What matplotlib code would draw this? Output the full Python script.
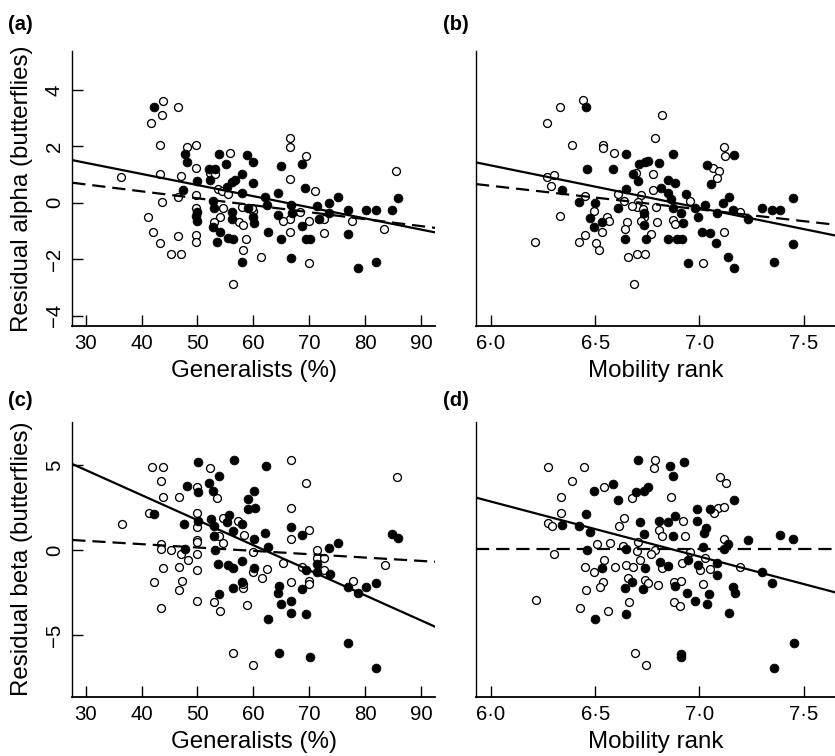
import matplotlib
matplotlib.use("Agg")
import matplotlib.pyplot as plt

plt.rcParams['font.family'] = ['Liberation Sans', 'DejaVu Sans']
plt.rcParams['lines.scale_dashes'] = False

# ---------------- data ----------------
# Panel (a): Residual alpha vs Generalists (%)
a_open_x = [36.3, 41.7, 43.8, 43.7, 46.6, 43.3, 43.3, 47.0, 48.2, 49.8, 49.8, 49.8, 46.6, 43.7,
            41.2, 42.1, 43.3, 45.2, 47.0, 46.6, 49.8, 49.8, 49.8, 55.8, 53.7, 54.3, 54.5, 54.0,
            52.9, 55.4, 56.3, 57.4, 58.2, 58.2, 58.6, 57.9, 60.0, 61.4, 66.6, 66.6, 66.6, 66.6,
            66.6, 65.3, 68.4, 69.4, 71.1, 69.9, 69.9, 72.6, 72.6, 77.7, 83.3, 85.5, 52.3, 53.2, 59.7]
a_open_y = [0.90, 2.84, 3.62, 3.11, 3.40, 2.06, 1.03, 0.96, 1.98, 2.06, 1.22, 0.27, 0.21, 0.02,
            -0.49, -1.02, -1.42, -1.82, -1.82, -1.17, -0.20, -1.14, -1.38, 1.78, 0.49, 0.41, -0.17, -0.52,
            -0.70, 0.30, -2.88, -0.70, -0.80, -1.68, -1.30, -0.14, -0.31, -1.91, 2.28, 1.98, 0.85, -0.56,
            -1.02, -0.66, -0.34, 1.64, 0.43, -0.66, -2.13, -0.58, -1.08, -0.64, -0.93, 1.14, 1.04, 1.02, -0.20]
a_fill_x = [42.2, 47.7, 48.2, 47.4, 50.0, 50.0, 50.0, 49.8, 52.0, 53.1, 52.3, 52.7, 52.9, 52.7,
            54.0, 53.5, 53.9, 55.1, 55.3, 56.1, 56.7, 58.0, 56.2, 56.2, 55.4, 56.3, 57.9, 57.9,
            58.8, 60.0, 60.0, 59.1, 60.0, 60.1, 62.1, 62.4, 62.6, 64.4, 64.9, 64.4, 65.0, 66.8,
            66.9, 66.8, 68.7, 69.3, 68.7, 69.5, 70.2, 71.4, 71.7, 73.6, 73.6, 75.2, 77.0, 77.0,
            78.7, 80.1, 82.0, 82.0, 84.8, 85.8]
a_fill_y = [3.40, 1.73, 1.46, 0.46, 0.77, -0.33, -0.65, -0.47, 1.20, 1.20, 0.80, 0.07, -0.18, -0.85,
            -1.04, -1.38, 1.73, 1.37, 0.57, 0.75, 0.80, 1.01, -0.32, -0.56, -1.24, -1.30, 0.33, -2.09,
            1.69, 1.46, 0.69, -0.20, -0.50, -0.71, 0.21, -0.08, -1.03, 0.33, 1.31, -0.44, -1.29, -0.09,
            -0.36, -1.95, 1.36, 0.51, -0.82, -1.30, -1.27, -0.12, -0.59, 0.00, -0.38, 0.20, -0.24, -1.12,
            -2.32, -0.26, -0.26, -2.09, -0.26, 0.18]

# Panel (b): Residual alpha vs Mobility rank
b_open_x = [6.443, 6.331, 6.270, 6.387, 6.535, 6.539, 6.591, 6.822, 6.785, 6.779, 6.777, 6.270,
            6.301, 6.288, 6.451, 6.611, 6.638, 6.695, 6.718, 6.707, 6.699, 6.678, 6.729, 6.789,
            6.736, 6.720, 6.797, 6.874, 6.882, 6.954, 7.066, 7.095, 7.084, 7.116, 7.122, 7.116,
            7.018, 7.194, 6.331, 6.494, 6.555, 6.568, 6.531, 6.451, 6.424, 6.505, 6.516, 6.213,
            6.654, 6.641, 6.767, 6.655, 6.699, 6.737, 6.686]
b_open_y = [3.64, 3.40, 2.84, 2.06, 2.06, 1.95, 1.78, 3.11, 2.30, 1.01, 0.45, 0.92,
            0.97, 0.59, 0.24, 0.31, 0.05, 1.04, 0.27, 0.01, -0.14, -0.12, -0.22, -0.14,
            -0.52, -0.64, -0.70, -0.62, -0.76, 0.07, 1.22, 1.14, 0.88, 1.96, 1.66, -1.02,
            -2.13, -0.33, -0.47, -0.30, -0.52, -0.64, -1.02, -1.16, -1.38, -1.44, -1.67, -1.38,
            -0.70, -0.93, -1.12, -1.91, -1.82, -1.82, -2.88]
b_fill_x = [6.456, 6.649, 6.871, 6.462, 6.587, 6.710, 6.738, 6.754, 6.807, 6.680, 6.704, 7.034,
            7.165, 7.055, 6.339, 6.424, 6.500, 6.611, 6.648, 6.814, 6.851, 6.882, 6.851, 6.864,
            6.874, 6.935, 6.911, 6.922, 6.978, 6.994, 7.026, 7.082, 7.114, 7.141, 7.161, 7.234,
            7.298, 7.346, 7.386, 7.450, 6.475, 6.496, 6.531, 6.733, 6.733, 6.641, 6.742, 6.851,
            6.890, 6.914, 7.014, 7.050, 7.079, 6.943, 7.138, 7.167, 7.357, 7.450]
b_fill_y = [3.40, 1.73, 1.73, 1.18, 1.18, 1.36, 1.46, 1.49, 1.41, 1.01, 0.78, 1.33,
            1.68, 0.67, 0.45, 0.04, -0.02, -0.17, 0.49, 0.53, 0.79, 0.70, 0.33, 0.14,
            -0.17, 0.31, -0.38, -0.73, -0.20, -0.50, -0.08, -0.38, -0.02, 0.21, -0.24, -0.57,
            -0.17, -0.26, -0.26, 0.17, -0.54, -0.85, -0.67, -0.38, -0.80, -1.30, -1.30, -1.27,
            -1.27, -1.27, -1.05, -1.09, -1.41, -2.13, -1.94, -2.32, -2.11, -1.47]

# Panel (c): Residual beta vs Generalists (%)
c_open_x = [36.5, 41.8, 43.8, 43.4, 43.8, 41.3, 46.7, 50.0, 50.0, 50.0, 50.0, 50.0, 50.0, 50.0,
            50.0, 52.3, 53.5, 54.5, 57.2, 58.3, 54.6, 53.9, 43.4, 43.4, 45.3, 47.0, 48.3, 43.8,
            46.7, 47.2, 46.7, 42.2, 43.4, 52.9, 54.1, 58.8, 58.2, 58.2, 56.4, 60.0, 60.0, 60.0,
            61.6, 62.5, 65.3, 66.7, 66.7, 66.7, 66.7, 69.4, 70.0, 68.7, 70.0, 70.0, 71.4, 71.4,
            72.7, 72.7, 77.8, 83.5, 85.7]
c_open_y = [1.55, 4.90, 4.90, 4.06, 3.14, 2.20, 3.14, 3.69, 2.20, 1.37, 0.59, 0.45, -0.24, -1.18,
            -3.00, 4.84, 3.08, 1.86, 1.71, 0.88, 0.43, 0.82, 0.33, 0.06, 0.00, -0.25, -0.59, -1.04,
            -0.98, -1.82, -2.35, -1.90, -3.39, -3.04, -3.57, -3.25, -2.22, -2.02, -6.08, -6.76, -0.10, -1.27,
            -1.63, -1.12, -0.75, 5.29, 2.49, 0.65, -1.88, 3.92, 1.18, -0.98, -1.82, -2.00, -0.02, -0.49,
            -0.45, -1.18, -1.82, -0.88, 4.29]
c_fill_x = [42.3, 47.5, 48.2, 50.1, 50.1, 50.1, 47.8, 52.1, 52.7, 53.9, 52.4, 52.9, 53.0, 53.2,
            53.6, 55.7, 55.2, 56.3, 58.0, 55.4, 56.3, 58.0, 56.6, 59.0, 59.0, 60.1, 60.3, 60.1,
            60.1, 62.2, 62.1, 62.6, 53.9, 56.3, 58.0, 62.6, 64.5, 64.4, 65.0, 64.5, 66.8, 66.8,
            66.8, 68.7, 68.7, 69.4, 69.4, 70.1, 71.4, 71.4, 73.6, 73.7, 75.2, 77.0, 77.0, 78.7,
            80.1, 82.0, 82.0, 84.8, 85.8]
c_fill_y = [2.12, 1.51, 3.76, 5.20, 3.43, 1.73, 0.06, 3.92, 3.49, 4.35, 1.82, 1.41, 0.82, 0.00,
            -0.80, 2.06, 1.67, 1.12, 1.53, -0.88, -1.04, -0.65, 5.29, 2.98, 2.39, 3.49, 2.45, 0.63,
            -1.08, 4.96, 0.98, 0.20, -2.61, -2.22, -1.86, -4.08, -2.12, -2.55, -3.18, -6.04, 1.37, -3.00,
            -3.69, 0.88, -2.31, -1.18, -3.76, -6.27, -0.82, -1.31, 0.10, -1.43, 0.39, -2.16, -5.45, -2.55,
            -2.16, -1.96, -6.96, 0.92, 0.69]

# Panel (d): Residual beta vs Mobility rank
d_open_x = [6.272, 6.448, 6.390, 6.334, 6.334, 6.272, 6.291, 6.304, 6.540, 6.676, 6.786, 6.782,
            6.863, 7.100, 7.125, 7.090, 7.119, 7.072, 6.639, 6.614, 6.571, 6.508, 6.633, 6.707,
            6.701, 6.715, 6.786, 6.769, 6.806, 6.818, 6.923, 6.931, 7.119, 6.954, 6.918, 7.026,
            7.002, 7.052, 7.194, 6.540, 6.451, 6.496, 6.594, 6.646, 6.683, 6.655, 6.535, 6.521,
            6.455, 6.217, 6.428, 6.559, 6.660, 6.738, 6.754, 6.802, 6.821, 6.879, 6.910, 7.018,
            6.876, 6.908, 6.689, 6.745]
d_open_y = [4.90, 4.90, 4.06, 3.14, 2.16, 1.57, 1.41, -0.22, 3.69, 3.08, 5.29, 4.84,
            3.14, 4.31, 3.92, 2.49, 2.53, 2.16, 1.86, 1.39, 0.43, 0.33, 0.25, 0.45,
            -0.04, -0.59, -0.02, -0.24, 1.18, 0.84, 1.71, 0.84, 0.65, -0.10, -0.75, -0.49,
            -1.18, -1.12, -0.98, -0.59, -0.98, -1.27, -0.98, -0.90, -0.98, -1.63, -1.90, -2.20,
            -2.35, -2.96, -3.43, -3.57, -3.04, -1.76, -1.92, -2.06, -1.08, -1.86, -1.80, -1.98,
            -3.04, -3.27, -6.08, -6.76]
d_fill_x = [6.703, 6.860, 6.927, 6.871, 6.587, 6.496, 6.695, 6.735, 6.754, 6.611, 7.165, 6.456,
            6.339, 6.424, 6.475, 6.715, 6.735, 6.807, 6.851, 6.882, 6.990, 7.050, 6.990, 7.031,
            7.023, 6.871, 7.234, 7.386, 7.450, 7.138, 7.119, 7.018, 6.462, 6.648, 6.531, 6.738,
            6.810, 6.851, 6.943, 6.994, 7.082, 7.085, 7.298, 7.346, 6.642, 6.674, 6.728, 6.882,
            6.940, 6.980, 7.048, 7.035, 7.161, 7.169, 7.141, 6.499, 6.648, 6.910, 6.910, 7.453, 7.357]
d_fill_y = [5.29, 4.96, 5.16, 4.35, 3.90, 3.49, 3.39, 3.49, 3.73, 2.94, 2.94, 2.12,
            1.47, 1.43, 1.08, 1.67, 0.92, 1.73, 1.67, 2.00, 2.41, 2.41, 1.73, 1.27,
            0.98, 0.82, 0.61, 0.88, 0.65, 0.33, 0.06, 0.16, -0.02, 0.06, -1.08, -1.08,
            -0.69, -0.94, -0.59, -0.88, -0.78, -1.47, -1.27, -1.96, -2.22, -1.86, -2.31, -2.10,
            -2.55, -3.00, -2.61, -3.16, -2.20, -2.55, -3.69, -4.08, -3.76, -6.14, -6.27, -5.45, -6.96]

# Regression lines: (intercept, slope)
a_solid, a_dashed = (2.599, -0.03945), (1.390, -0.02465)
b_solid, b_dashed = (10.346, -1.504), (5.617, -0.836)
c_solid, c_dashed = (9.130, -0.14746), (1.134, -0.01972)
d_solid, d_dashed = (22.26, -3.235), (0.04, 0.0)

gen_ticks = [30, 40, 50, 60, 70, 80, 90]
gen_labels = ['30', '40', '50', '60', '70', '80', '90']
mob_ticks = [6.0, 6.5, 7.0, 7.5]
mob_labels = ['6·0', '6·5', '7·0', '7·5']
alpha_ticks = [-4, -2, 0, 2, 4]
alpha_labels = ['−4', '−2', '0', '2', '4']
beta_ticks = [-5, 0, 5]
beta_labels = ['−5', '0', '5']

# ---------------- figure ----------------
W, H = 835, 756
fig = plt.figure(figsize=(W / 100, H / 100), dpi=100)


def px_axes(l, r, t, b):
    return fig.add_axes([l / W, 1 - b / H, (r - l) / W, (b - t) / H])


ax_a = px_axes(72.3, 435, 50.7, 326)
ax_b = px_axes(476, 835, 50.7, 326)
ax_c = px_axes(72.3, 435, 421.7, 696.7)
ax_d = px_axes(476, 835, 421.7, 696.7)

panels = [
    (ax_a, a_open_x, a_open_y, a_fill_x, a_fill_y, a_solid, a_dashed),
    (ax_b, b_open_x, b_open_y, b_fill_x, b_fill_y, b_solid, b_dashed),
    (ax_c, c_open_x, c_open_y, c_fill_x, c_fill_y, c_solid, c_dashed),
    (ax_d, d_open_x, d_open_y, d_fill_x, d_fill_y, d_solid, d_dashed),
]

for ax, ox, oy, fx, fy, sol, das in panels:
    ax.plot(ox, oy, linestyle='none', marker='o', markersize=5.7,
            markerfacecolor='white', markeredgecolor='black', markeredgewidth=0.95, zorder=2)
    ax.plot(fx, fy, linestyle='none', marker='o', markersize=6.4,
            markerfacecolor='black', markeredgecolor='black', markeredgewidth=0.5, zorder=3)
    ax.axline((0, sol[0]), slope=sol[1], color='black', linewidth=1.6, zorder=4)
    ax.axline((0, das[0]), slope=das[1], color='black', linewidth=1.6,
              dashes=(9.5, 5), zorder=4)
    for s in ['top', 'right']:
        ax.spines[s].set_visible(False)
    ax.spines['left'].set_linewidth(1.0)
    ax.spines['bottom'].set_linewidth(1.3)
    ax.tick_params(direction='in', length=8, width=1.0, labelsize=14.7, pad=6)

# x axes
for ax in (ax_a, ax_c):
    ax.set_xlim(27.6, 92.5)
    ax.set_xticks(gen_ticks)
    ax.set_xticklabels(gen_labels)
    ax.set_xlabel('Generalists (%)', fontsize=17.4, labelpad=5)
for ax in (ax_b, ax_d):
    ax.set_xlim(5.928, 7.650)
    ax.set_xticks(mob_ticks)
    ax.set_xticklabels(mob_labels)
    ax.set_xlabel('Mobility rank', fontsize=17.4, labelpad=5)
    ax.tick_params(axis='y', left=False, labelleft=False)

# y axes
for ax in (ax_a, ax_b):
    ax.set_ylim(-4.37, 5.39)
ax_a.set_yticks(alpha_ticks)
ax_a.set_yticklabels(alpha_labels, rotation=90, va='center')
ax_b.set_yticks(alpha_ticks)

for ax in (ax_c, ax_d):
    ax.set_ylim(-8.63, 7.55)
ax_c.set_yticks(beta_ticks)
ax_c.set_yticklabels(beta_labels, rotation=90, va='center')
ax_d.set_yticks(beta_ticks)

ax_a.set_ylabel('Residual alpha (butterflies)', fontsize=17.4)
ax_a.yaxis.set_label_coords(-0.108, 0.5)
ax_c.set_ylabel('Residual beta (butterflies)', fontsize=17.4)
ax_c.yaxis.set_label_coords(-0.108, 0.5)

# panel letters
for lab, x, y in [('(a)', 8, 24), ('(b)', 443, 24), ('(c)', 8, 400), ('(d)', 443, 400)]:
    fig.text(x / W, 1 - y / H, lab, fontsize=14.5, fontweight='bold', ha='left', va='center')

fig.savefig('out.png', dpi=100)
